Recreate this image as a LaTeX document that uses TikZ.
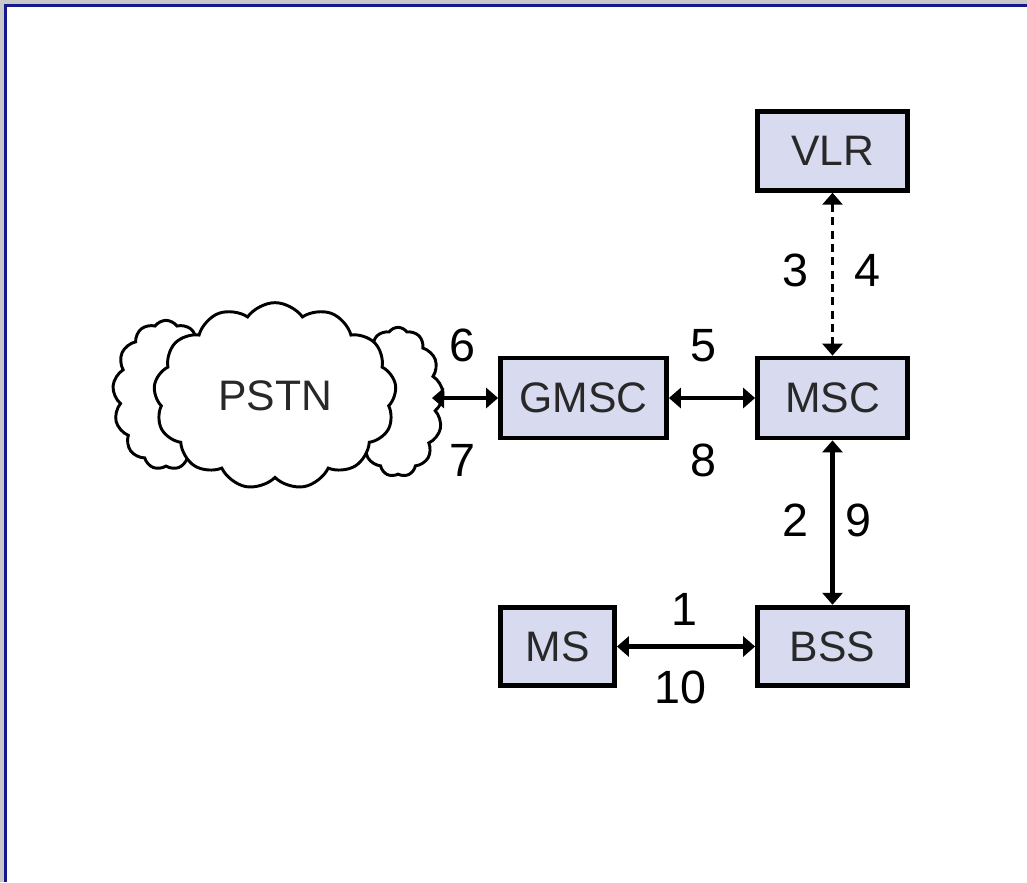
\documentclass[tikz,border=0pt]{standalone}
\usepackage{fontspec}
\setmainfont{Liberation Sans}
\usetikzlibrary{arrows.meta, shapes.symbols}
\definecolor{boxfill}{RGB}{216,218,240}
\definecolor{framegray}{RGB}{200,200,200}
\definecolor{frameblue}{RGB}{24,24,140}
\definecolor{boxtext}{RGB}{40,40,40}

\begin{document}
\begin{tikzpicture}[x=0.75pt,y=-0.75pt,
  unit/.style={draw=black,line width=3.6pt,fill=boxfill,text=boxtext,
    minimum height=59pt,inner sep=0pt,font=\fontsize{32}{38}\selectfont},
  num/.style={inner sep=0pt,font=\fontsize{35}{42}\selectfont},
  link/.style={line width=3.3pt,{Triangle[length=9pt,width=15pt]}-{Triangle[length=9pt,width=15pt]}},
  dlink/.style={line width=2.6pt,dash pattern=on 6pt off 4pt,{Triangle[length=9pt,width=15pt]}-{Triangle[length=9pt,width=15pt]}},
  puff/.style={cloud,cloud puffs=13,cloud puff arc=110,draw=black,line width=2.2pt,fill=white,inner sep=0pt}]
  \useasboundingbox (0,0) rectangle (1027,882);
  % frame
  \fill[framegray] (0,0) rectangle (1027,882);
  \fill[white] (4,4) rectangle (1027,882);
  \draw[frameblue,line width=2.4pt] (5.5,882) -- (5.5,5.5) -- (1027,5.5);

  % cloud
  \node[puff,minimum width=80pt,minimum height=112pt] (pstnl) at (166,395) {};
  \node[puff,minimum width=68pt,minimum height=112pt] (pstnr) at (398,402) {};
  \node[puff,minimum width=182pt,minimum height=140pt,font=\fontsize{32}{38}\selectfont,text=boxtext] (pstn) at (275,396) {PSTN};

  % boxes
  \node[unit,minimum width=112.5pt] (vlr) at (832.5,151) {VLR};
  \node[unit,minimum width=112.5pt,minimum height=60pt] (msc) at (832.5,398) {MSC};
  \node[unit,minimum width=124.5pt,minimum height=60pt] (gmsc) at (583.5,398) {GMSC};
  \node[unit,minimum width=85.5pt] (ms) at (557.5,646.5) {MS};
  \node[unit,minimum width=112.5pt] (bss) at (832.5,646.5) {BSS};

  % links
  \coordinate (tap) at (432,398);
  \draw[link] (tap) -- (gmsc.west);
  \draw[link] (gmsc.east) -- (msc.west);
  \draw[dlink] (vlr.south) -- (msc.north);
  \draw[link] (msc.south) -- (bss.north);
  \draw[link] (ms.east) -- (bss.west);

  % message numbers
  \node[num] (n6) at (462,345) {6};
  \node[num] (n7) at (462,460) {7};
  \node[num] (n5) at (703,346) {5};
  \node[num] (n8) at (703,460) {8};
  \node[num] (n3) at (795,270) {3};
  \node[num] (n4) at (867,270) {4};
  \node[num] (n2) at (795,520) {2};
  \node[num] (n9) at (858,520) {9};
  \node[num] (n1) at (684,609) {1};
  \node[num] (n10) at (680,687) {10};
\end{tikzpicture}
\end{document}
